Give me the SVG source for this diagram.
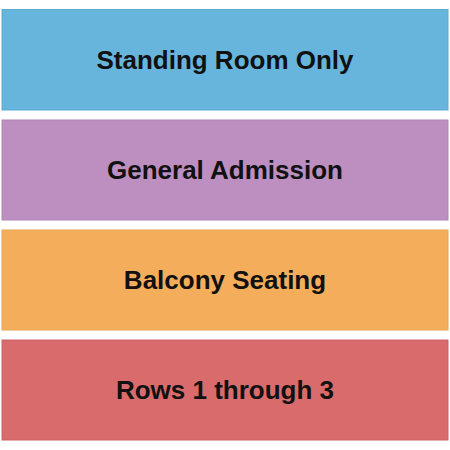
<svg xmlns="http://www.w3.org/2000/svg" width="450" height="450" viewBox="0 0 450 450">
<style>
.sec rect{stroke-width:1;}
.sec text{font-family:"Liberation Sans",Arial,sans-serif;font-weight:bold;font-size:26px;fill:#111;text-anchor:middle;dominant-baseline:central;}
</style>
<rect width="450" height="450" fill="#ffffff"/>
<g id="standing" class="sec"><rect x="2" y="9.5" width="446" height="100.5" fill="#67b5dd" stroke="#5fa9d0"/><text x="225" y="60">Standing Room Only</text></g>
<g id="general" class="sec"><rect x="2" y="120" width="446" height="100" fill="#bd8fc1" stroke="#b285b6"/><text x="225" y="170">General Admission</text></g>
<g id="balcony" class="sec"><rect x="2" y="230" width="446" height="100" fill="#f4ae5b" stroke="#e8a453"/><text x="225" y="280">Balcony Seating</text></g>
<g id="rows" class="sec"><rect x="2" y="340" width="446" height="100" fill="#d96b6d" stroke="#cd6365"/><text x="225" y="390">Rows 1 through 3</text></g>
<g id="connectors"/>
</svg>
